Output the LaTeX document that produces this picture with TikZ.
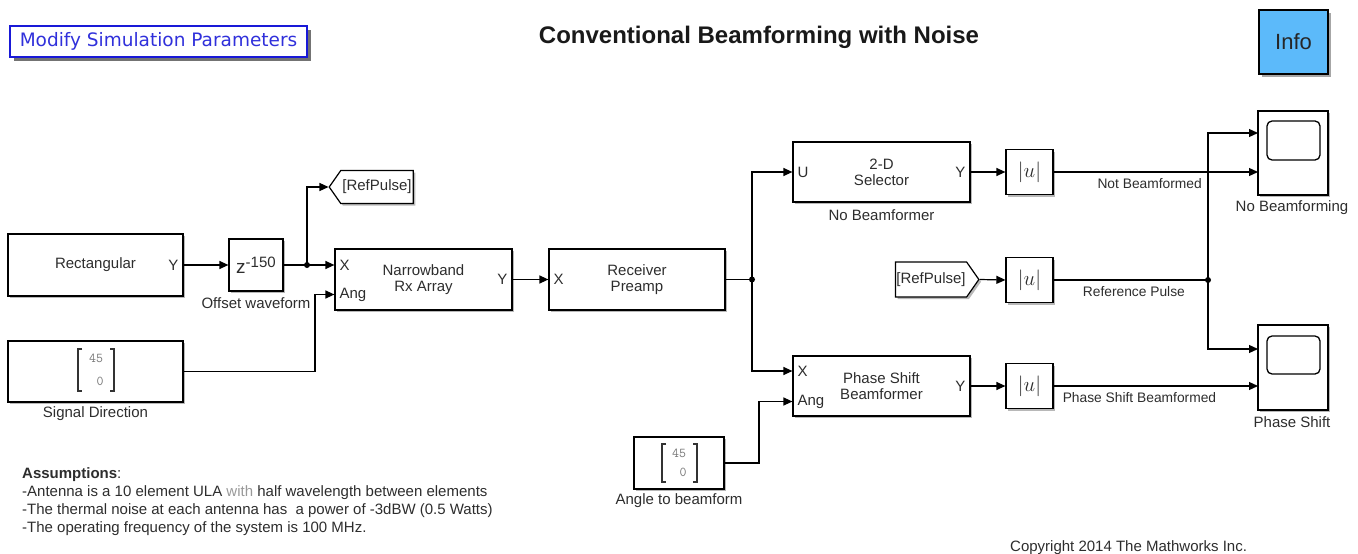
\documentclass[tikz,border=0pt]{standalone}
\usepackage{fontspec}
\setmainfont{Liberation Sans}
\newfontfamily\btnfont{DejaVu Sans}
\usetikzlibrary{arrows.meta,shapes.symbols,shadows,calc}
\definecolor{txt}{RGB}{45,45,45}
\definecolor{btnblue}{RGB}{25,25,215}
\definecolor{infoblue}{RGB}{92,186,250}
\definecolor{cgray}{RGB}{120,120,120}
\tikzset{
  shd/.style={drop shadow={shadow xshift=2.2pt, shadow yshift=-2.2pt, opacity=0.28, fill=black}},
  blk/.style={draw, line width=1.2pt, fill=white, inner sep=0pt, align=center, text=txt,
    font=\fontsize{15}{16}\selectfont, shd},
  absblk/.style={blk, minimum width=47pt, minimum height=45pt, font=\fontsize{21}{21}\selectfont},
  port/.style={text=txt, font=\fontsize{15}{16}\selectfont, inner sep=0pt},
  lbl/.style={text=txt, font=\fontsize{15}{16}\selectfont, inner sep=0pt},
  sig/.style={text=txt, font=\fontsize{13.8}{15}\selectfont, inner sep=0pt},
  ln/.style={line width=1.2pt, draw=black},
  arr/.style={ln, -{Triangle[length=9pt,width=8pt]}},
  dot/.style={circle, fill=black, inner sep=0pt, minimum size=6pt},
  cval/.style={text=cgray, font=\ttfamily\fontsize{13.5}{14}\selectfont, inner sep=0pt},
  brk/.style={line width=1.3pt, draw=black!80},
  tag/.style={draw, line width=1.2pt, fill=white, signal, signal from=nowhere,
    signal pointer angle=110, minimum height=33pt, inner sep=1pt, text=txt,
    font=\fontsize{15}{16}\selectfont, shd},
}
\begin{document}
\begin{tikzpicture}[x=1pt,y=-1pt]
\useasboundingbox (0,0) rectangle (1358,554);

% header
\node[draw=btnblue, line width=1.8pt, fill=white, minimum width=297pt, minimum height=31pt,
  inner sep=0pt, text=btnblue!90!white, font=\btnfont\fontsize{18.5}{19}\selectfont,
  drop shadow={shadow xshift=4pt, shadow yshift=-4pt, opacity=0.55, fill=black}]
  (modify) at (158.5,41.5) {Modify Simulation Parameters};
\node[font=\bfseries\fontsize{24}{25}\selectfont, text=black!90, inner sep=0pt] (title) at (759,37) {Conventional Beamforming with Noise};
\node[draw, line width=1.2pt, fill=infoblue, minimum width=69pt, minimum height=64pt, inner sep=0pt,
  text=black!85, font=\fontsize{22}{22}\selectfont,
  drop shadow={shadow xshift=2.5pt, shadow yshift=-2.5pt, opacity=0.35, fill=black}]
  (info) at (1293.5,42) {Info};

% blocks
\node[blk, minimum width=175pt, minimum height=62pt] (rect) at (95.5,265) {Rectangular};
\node[port, anchor=east] (rectY) at ($(rect.east)+(-5,0)$) {Y};

\node[blk, minimum width=54pt, minimum height=52pt, font=\fontsize{19}{19}\selectfont] (delay) at (256,265) {z\raisebox{0.55ex}{\fontsize{15}{15}\selectfont -150}};
\node[lbl] (delaylbl) at (256,303) {Offset waveform};
\coordinate (j1) at (307,265);

\node[tag, signal to=west, minimum width=84pt] (goto) at (377,187) {[RefPulse]};

\node[blk, minimum width=177pt, minimum height=61pt] (nb) at (423.5,279.5) {Narrowband\\Rx Array};
\node[port, anchor=west] (nbX) at ($(nb.west)+(5,-14.5)$) {X};
\node[port, anchor=west] (nbA) at ($(nb.west)+(5,15)$) {Ang};
\node[port, anchor=east] (nbY) at ($(nb.east)+(-5,0)$) {Y};

\node[blk, minimum width=175pt, minimum height=61pt] (sigdir) at (95.5,371.5) {};
\node[cval] (sd45) at (96,358) {45};
\node[cval] (sd0) at (100,381) {0};
\draw[brk] (82,349) -- (78,349) -- (78,391) -- (82,391);
\draw[brk] (110,349) -- (114,349) -- (114,391) -- (110,391);
\node[lbl] (sigdirlbl) at (95.5,414) {Signal Direction};
\coordinate (bend1) at (315,294.5);

\node[blk, minimum width=176pt, minimum height=61pt] (pre) at (637,279.5) {Receiver\\Preamp};
\node[port, anchor=west] (preX) at ($(pre.west)+(5,0)$) {X};
\coordinate (j2) at (752,279.5);

\node[blk, minimum width=177pt, minimum height=60pt] (sel) at (881.5,172) {2-D\\Selector};
\node[port, anchor=west] (selU) at ($(sel.west)+(5,0)$) {U};
\node[port, anchor=east] (selY) at ($(sel.east)+(-5,0)$) {Y};
\node[lbl] (sellbl) at (881.5,215) {No Beamformer};

\node[blk, minimum width=177pt, minimum height=60pt] (psb) at (881.5,386) {Phase Shift\\Beamformer};
\node[port, anchor=west] (psbXl) at ($(psb.west)+(5,-15)$) {X};
\node[port, anchor=west] (psbAl) at ($(psb.west)+(5,15.5)$) {Ang};
\node[port, anchor=east] (psbY) at ($(psb.east)+(-5,0)$) {Y};
\coordinate (psbx) at ($(psb.west)+(0,-15)$);
\coordinate (psbang) at ($(psb.west)+(0,15.5)$);

\node[blk, minimum width=90pt, minimum height=52pt] (ang) at (679,463) {};
\node[cval] (an45) at (679,453) {45};
\node[cval] (an0) at (683,472) {0};
\draw[brk] (666,444) -- (662,444) -- (662,482) -- (666,482);
\draw[brk] (693,444) -- (697,444) -- (697,482) -- (693,482);
\node[lbl] (anglbl) at (679,501) {Angle to beamform};
\coordinate (bend2) at (759,401.5);

\node[absblk] (abs1) at (1029.5,172) {$|u|$};
\node[absblk] (abs2) at (1029.5,280) {$|u|$};
\node[absblk] (abs3) at (1029.5,386) {$|u|$};

\node[tag, signal to=east, minimum width=77pt, minimum height=35pt] (from) at (931,279.5) {[RefPulse]};
\coordinate (j3) at (1208,280);

% scopes
\node[blk, minimum width=70pt, minimum height=84pt] (scope1) at (1293,153) {};
\draw[line width=1.3pt, rounded corners=5pt] (1267,121) rectangle (1320,160);
\node[lbl] (scope1lbl) at (1292,208) {No Beamforming};
\coordinate (s1a) at (1258,133);
\coordinate (s1b) at (1258,172);

\node[blk, minimum width=70pt, minimum height=85pt] (scope2) at (1293,367.5) {};
\draw[line width=1.3pt, rounded corners=5pt] (1267,336) rectangle (1320,374);
\node[lbl] (scope2lbl) at (1292,422) {Phase Shift};
\coordinate (s2a) at (1258,349);
\coordinate (s2b) at (1258,386);

% connectors
\draw[arr] (rect.east) -- (delay.west);
\draw[ln] (delay.east) -- (j1);
\draw[arr] (j1) -- (nb.west |- j1);
\draw[arr] (j1) |- (goto.west);
\draw[arr] (sigdir.east) -| (bend1) -- (nb.west |- bend1);
\draw[arr] (nb.east) -- (pre.west);
\draw[ln] (pre.east) -- (j2);
\draw[arr] (j2) |- (sel.west);
\draw[arr] (j2) |- (psbx);
\draw[arr] (ang.east) -| (bend2) -- (psbang);
\draw[arr] (sel.east) -- (abs1.west);
\draw[arr] (psb.east) -- (abs3.west);
\draw[arr] (from.east) -- (abs2.west);
\draw[arr] (abs1.east) -- node[sig, below=6pt, pos=0.47] (nbf) {Not Beamformed} (s1b);
\draw[ln] (abs2.east) -- node[sig, below=6pt, pos=0.52] (rpl) {Reference Pulse} (j3);
\draw[arr] (abs3.east) -- node[sig, below=6pt, pos=0.42] (psbl) {Phase Shift Beamformed} (s2b);
\draw[arr] (j3) |- (s1a);
\draw[arr] (j3) |- (s2a);
\node[dot] (d1) at (j1) {};
\node[dot] (d2) at (j2) {};
\node[dot] (d3) at (j3) {};

% notes
\node[anchor=north west, align=left, inner sep=0pt, text=txt,
  font=\fontsize{15}{18}\selectfont] (notes) at (22,467)
  {\textbf{Assumptions}:\\
   -Antenna is a 10 element ULA {\color{black!40}with} half wavelength between elements\\
   -The thermal noise at each antenna has\ \ a power of -3dBW (0.5 Watts)\\
   -The operating frequency of the system is 100 MHz.};
\node[anchor=west, inner sep=0pt, text=txt, font=\fontsize{15}{16}\selectfont] (copy) at (1010,548) {Copyright 2014 The Mathworks Inc.};
\end{tikzpicture}
\end{document}
